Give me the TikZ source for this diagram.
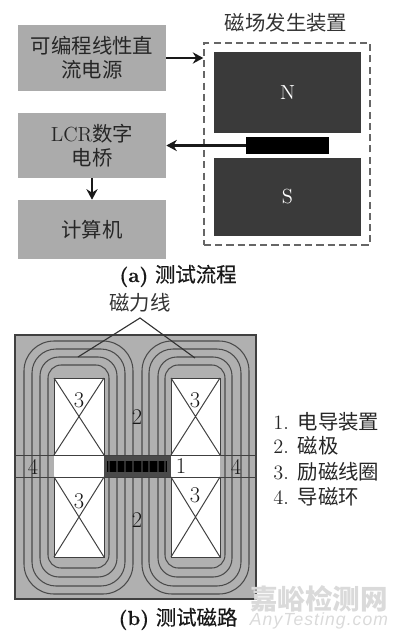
\documentclass[tikz,border=0pt]{standalone}
\usepackage{fontspec}
\newfontfamily\cjk{Noto Sans CJK SC}
\newfontfamily\cjkcap[FakeBold=0.45]{Noto Sans CJK SC}
\newfontfamily\capfont[FakeBold=0.4]{Latin Modern Roman}
\newfontfamily\wmfont[LetterSpace=6]{Liberation Sans}
\usepackage{tikz}
\usetikzlibrary{calc,arrows.meta}

\definecolor{panelgray}{HTML}{ABABAB}
\definecolor{poledark}{HTML}{3A3A3A}
\definecolor{coregray}{HTML}{B0B0B0}
\definecolor{fluxgray}{HTML}{4A4A4A}
\definecolor{framegray}{HTML}{666666}
\definecolor{markgray}{HTML}{DADADA}

\begin{document}
\begin{tikzpicture}[x=0.025cm, y=-0.025cm, >={Stealth[length=7.5pt,width=8pt]},
    panelbox/.style={fill=panelgray, minimum width=3.7cm, inner sep=0pt, align=center,
      font=\fontsize{14.5}{17}\selectfont\cjk, text=black!85},
    polebox/.style={fill=poledark, minimum width=3.675cm, inner sep=0pt, text=white!85,
      font=\fontsize{14.5}{17}\selectfont},
    probe/.style={fill=black, inner sep=0pt},
    flow/.style={->, line width=1.9pt, black!90},
    caption/.style={font=\fontsize{14.5}{17}\selectfont, text=black!90},
    numlabel/.style={font=\fontsize{16}{18}\selectfont, text=black!90, inner sep=0pt},
    legend/.style={anchor=west, inner sep=0pt, font=\fontsize{14.5}{17}\selectfont, text=black!85},
    flux/.style={fluxgray, line width=0.75pt},
    thinline/.style={black!75, line width=0.7pt}]
  \useasboundingbox (0,0) rectangle (400,639);

  \node[panelbox, minimum height=1.65cm] (source) at (92,58) {可编程线性直\\流电源};
  \node[panelbox, minimum height=1.625cm, font=\fontsize{14.5}{17}\selectfont] (lcr) at (92,145.5) {LCR{\cjk 数字}\\{\cjk 电桥}};
  \node[panelbox, minimum height=1.475cm] (computer) at (92,229.5) {计算机};
  \node[draw=framegray, dash pattern=on 5pt off 3pt, line width=0.9pt, minimum width=4.15cm, minimum height=5.05cm, inner sep=0pt] (frame) at (287,144) {};
  \node[polebox, minimum height=2.025cm] (north) at (287.5,92.5) {N};
  \node[polebox, minimum height=1.95cm] (south) at (287.5,197) {S};
  \node[probe, minimum width=2.075cm, minimum height=0.425cm] (probe) at (287.5,145.5) {};
  \node[font=\fontsize{14.5}{17}\selectfont\cjk, text=black!80] (devicelabel) at (286,23) {磁场发生装置};
  \draw[flow] (source.east) -- (source.east -| frame.west);
  \draw[flow] (probe.west) -- (lcr.east);
  \draw[flow] (lcr.south) -- (computer.north);
  \node[caption] (captiona) at (178,276) {{\capfont\bfseries (a)} {\cjkcap 测试流程}};

  \fill[coregray] (15,335) rectangle (256,599);
  \foreach \wl/\wr in {54/104, 171/220} {
    \fill[white] (\wl,378) rectangle (\wr,557);
    \draw[thinline] (\wl,378) rectangle (\wr,455);
    \draw[thinline] (\wl,378) -- (\wr,455) (\wr,378) -- (\wl,455);
    \draw[thinline] (\wl,477) rectangle (\wr,557);
    \draw[thinline] (\wl,477) -- (\wr,557) (\wr,477) -- (\wl,557);
  }
  \fill[fluxgray] (104,455) rectangle (171,477);
  \node[probe, minimum width=1.5cm, minimum height=0.275cm] (coilcore) at (137,466.5) {};
  \foreach \lx/\rx/\ty/\by/\rad in {48/109/365/568/0.33, 40/117/357/577/0.47, 32/125/349/586/0.6, 24/133/341/594/0.75,
      165/225/365/568/0.33, 158/232/357/577/0.47, 149/241/349/586/0.6, 142/249/341/594/0.75} {
    \draw[flux, rounded corners=\rad cm] (\lx,\ty) rectangle (\rx,\by);
  }
  \draw[thinline] (15,455) -- (256,455) (15,477) -- (256,477);
  \draw[black!75, line width=0.9pt] (15,335) rectangle (256,599);

  \node[font=\fontsize{14.5}{17}\selectfont\cjk, text=black!80] (fluxlabel) at (140,303) {磁力线};
  \coordinate (apex) at (140,318);
  \coordinate (fluxleft) at (78,357);
  \coordinate (fluxright) at (195,358);
  \draw[black!80, line width=0.8pt] (fluxleft) -- (apex) -- (fluxright);

  \node[numlabel] (coila) at (79,400) {3};
  \node[numlabel] (coilb) at (195,400) {3};
  \node[numlabel] (coilc) at (79,501) {3};
  \node[numlabel] (coild) at (195,495) {3};
  \node[numlabel] (polea) at (137,417) {2};
  \node[numlabel] (poleb) at (137,520) {2};
  \node[numlabel] (ringa) at (33,467) {4};
  \node[numlabel] (ringb) at (236,467) {4};
  \node[numlabel] (probenum) at (181,466) {1};

  \node[legend] (legenda) at (273,422) {1. {\cjk 电导装置}};
  \node[legend] (legendb) at (273,446) {2. {\cjk 磁极}};
  \node[legend] (legendc) at (273,472) {3. {\cjk 励磁线圈}};
  \node[legend] (legendd) at (273,497) {4. {\cjk 导磁环}};
  \node[caption] (captionb) at (178,619) {{\capfont\bfseries (b)} {\cjkcap 测试磁路}};

  \node[font=\fontsize{19.6}{22}\selectfont\cjk\bfseries, text=markgray, inner sep=0pt] (markcn) at (319,599) {嘉峪检测网};
  \node[font=\fontsize{12.5}{15}\selectfont\wmfont\itshape, text=markgray, inner sep=0pt] (marken) at (319,621) {AnyTesting.com};
\end{tikzpicture}
\end{document}
